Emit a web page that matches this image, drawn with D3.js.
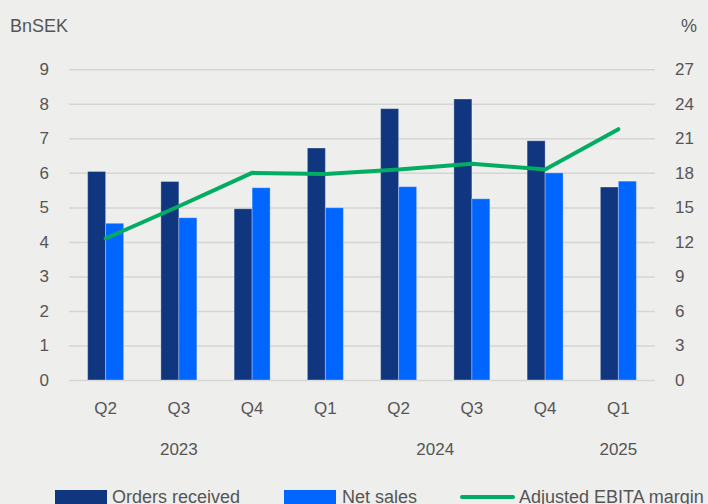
<!DOCTYPE html>
<html>
<head>
<meta charset="utf-8">
<script src="https://cdn.jsdelivr.net/npm/d3@7/dist/d3.min.js"></script>
<style>
  html, body { margin: 0; padding: 0; background: #eeeeec; }
  svg { display: block; }
  text { font-family: "Liberation Sans", Arial, sans-serif; fill: #555; }
</style>
</head>
<body>
<svg id="chart" width="708" height="504"></svg>
<script>
// Quarterly figures
const quarters = ["Q2 2023", "Q3 2023", "Q4 2023", "Q1 2024", "Q2 2024", "Q3 2024", "Q4 2024", "Q1 2025"];
const quarterLabels = ["Q2", "Q3", "Q4", "Q1", "Q2", "Q3", "Q4", "Q1"];
const ordersReceived = [6.04, 5.75, 4.96, 6.72, 7.86, 8.14, 6.93, 5.59];
const netSales = [4.54, 4.70, 5.57, 4.99, 5.60, 5.25, 6.00, 5.76];
const ebitaMargin = [12.3, 15.1, 18.0, 17.9, 18.3, 18.8, 18.3, 21.8];
const leftTicks = [0, 1, 2, 3, 4, 5, 6, 7, 8, 9];
const rightTicks = [0, 3, 6, 9, 12, 15, 18, 21, 24, 27];
// Year labels, anchored between the quarters they span
const years = [
  { label: "2023", from: "Q2 2023", to: "Q4 2023" },
  { label: "2024", from: "Q1 2024", to: "Q4 2024" },
  { label: "2025", from: "Q1 2025", to: "Q1 2025" }
];

const colors = { orders: "#10367f", sales: "#0066ff", margin: "#00ad62", grid: "#d5d5d3" };

const svg = d3.select("#chart");
const plotLeft = 69, plotRight = 655, plotTop = 69.3, plotBottom = 380;

const x = d3.scaleBand().domain(quarters).range([plotLeft, plotRight]).paddingInner(0).paddingOuter(0);
const inner = d3.scaleBand().domain(["orders", "sales"]).range([0, 36]).padding(0);
const yL = d3.scaleLinear().domain([0, 9]).range([plotBottom, plotTop]);
const yR = d3.scaleLinear().domain([0, 27]).range([plotBottom, plotTop]);

// Gridlines
svg.append("g")
  .attr("transform", `translate(${plotLeft},0)`)
  .call(d3.axisLeft(yL).tickValues(leftTicks).tickSize(-(plotRight - plotLeft)).tickFormat(""))
  .call(g => g.select(".domain").remove())
  .call(g => g.selectAll("line").attr("stroke", colors.grid).attr("stroke-width", 1.5));

// Left axis labels
svg.append("g")
  .attr("transform", `translate(${plotLeft - 20},0)`)
  .call(d3.axisLeft(yL).tickValues(leftTicks).tickSize(0).tickPadding(0))
  .call(g => g.select(".domain").remove())
  .call(g => g.selectAll("text").attr("font-size", 17).attr("fill", "#555")
    .style("font-family", "'Liberation Sans', Arial, sans-serif"));

// Right axis labels
svg.append("g")
  .attr("transform", `translate(${plotRight + 20},0)`)
  .call(d3.axisRight(yR).tickValues(rightTicks).tickSize(0).tickPadding(0))
  .call(g => g.select(".domain").remove())
  .call(g => g.selectAll("text").attr("font-size", 17).attr("fill", "#555")
    .style("font-family", "'Liberation Sans', Arial, sans-serif"));

// Units
svg.append("text").attr("x", 10).attr("y", 32).attr("font-size", 18).text("BnSEK");
svg.append("text").attr("x", 697).attr("y", 32).attr("font-size", 18).attr("text-anchor", "end").text("%");

// Bars
const barW = inner.bandwidth();
const groupOffset = (x.bandwidth() - 36) / 2;
const groups = svg.append("g").selectAll("g").data(quarters).join("g")
  .attr("transform", d => `translate(${x(d) + groupOffset},0)`);

groups.append("rect")
  .attr("x", inner("orders")).attr("width", barW)
  .attr("y", (d, i) => yL(ordersReceived[i]))
  .attr("height", (d, i) => yL(0) - yL(ordersReceived[i]))
  .attr("fill", colors.orders)
  .attr("stroke", "rgba(255,255,255,0.3)").attr("stroke-width", 1);

groups.append("rect")
  .attr("x", inner("sales")).attr("width", barW)
  .attr("y", (d, i) => yL(netSales[i]))
  .attr("height", (d, i) => yL(0) - yL(netSales[i]))
  .attr("fill", colors.sales)
  .attr("stroke", "rgba(255,255,255,0.3)").attr("stroke-width", 1);

// Margin line
const line = d3.line()
  .x((d, i) => x(quarters[i]) + x.bandwidth() / 2)
  .y(d => yR(d));
svg.append("path")
  .datum(ebitaMargin)
  .attr("d", line)
  .attr("fill", "none")
  .attr("stroke", colors.margin)
  .attr("stroke-width", 4)
  .attr("stroke-linecap", "round")
  .attr("stroke-linejoin", "miter");

// Category labels
svg.append("g").selectAll("text").data(quarters).join("text")
  .attr("x", d => x(d) + x.bandwidth() / 2)
  .attr("y", 414)
  .attr("text-anchor", "middle")
  .attr("font-size", 17)
  .text((d, i) => quarterLabels[i]);

svg.append("g").selectAll("text").data(years).join("text")
  .attr("x", d => (x(d.from) + x(d.to) + x.bandwidth()) / 2)
  .attr("y", 455)
  .attr("text-anchor", "middle")
  .attr("font-size", 17)
  .text(d => d.label);

// Legend
const legend = svg.append("g");
legend.append("rect").attr("x", 55).attr("y", 490).attr("width", 52).attr("height", 16).attr("fill", colors.orders);
legend.append("text").attr("x", 112).attr("y", 503).attr("font-size", 18).text("Orders received");
legend.append("rect").attr("x", 284).attr("y", 490).attr("width", 52).attr("height", 16).attr("fill", colors.sales);
legend.append("text").attr("x", 342).attr("y", 503).attr("font-size", 18).text("Net sales");
legend.append("line").attr("x1", 462).attr("x2", 513).attr("y1", 497).attr("y2", 497)
  .attr("stroke", colors.margin).attr("stroke-width", 4).attr("stroke-linecap", "round");
legend.append("text").attr("x", 519).attr("y", 503).attr("font-size", 18).text("Adjusted EBITA margin");
</script>
</body>
</html>
